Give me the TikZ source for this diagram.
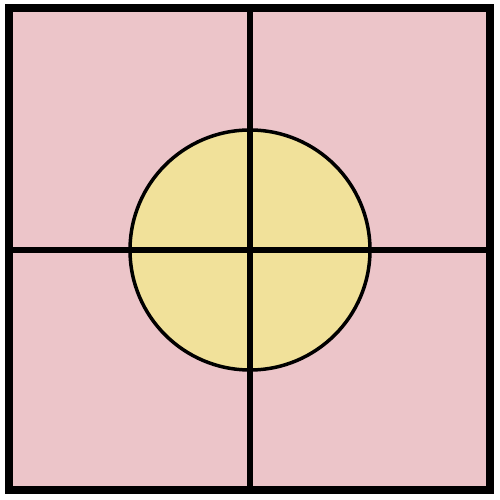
\documentclass[tikz,border=0pt]{standalone}
\usetikzlibrary{positioning,calc}
\definecolor{rose}{HTML}{ECC5C9}
\definecolor{sand}{HTML}{F1E19A}

\begin{document}
\begin{tikzpicture}[x=1pt,y=1pt]
\useasboundingbox (0,0) rectangle (500,500);
\fill[rose] (8.5,9.5) rectangle (489.5,491.5);
\node[draw=black,fill=sand,circle,line width=3.5pt,minimum size=240pt,inner sep=0pt] (sun) at (250,250){};
\coordinate (n) at (250,491.5);\coordinate (s) at (250,9.5);
\coordinate (w) at (8.5,250);\coordinate (e) at (489.5,250);
\draw[line width=6pt] (n)--(s);\draw[line width=6pt] (w)--(e);
\draw[line width=8pt] (8.5,9.5) rectangle (489.5,491.5);
\end{tikzpicture}
\end{document}
